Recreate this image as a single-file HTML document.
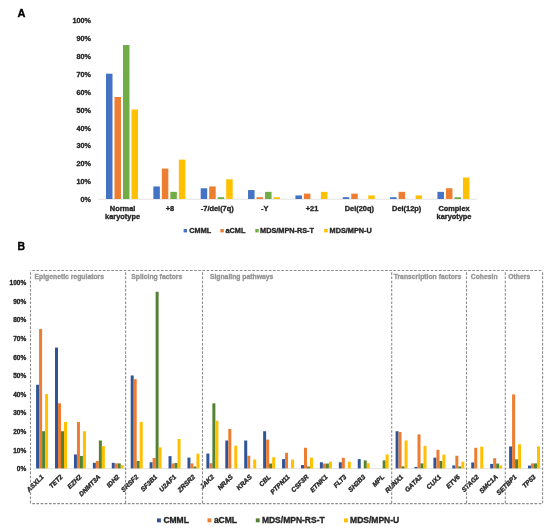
<!DOCTYPE html>
<html><head><meta charset="utf-8"><style>
html,body{margin:0;padding:0;background:#fff;}
body{width:550px;height:531px;overflow:hidden;font-family:"Liberation Sans",sans-serif;}
svg{display:block;will-change:transform;filter:blur(0.3px);}
svg text{font-family:"Liberation Sans",sans-serif;stroke-width:0.35px;stroke-linejoin:round;}
.k{fill:#262626;stroke:#262626;}
.kb{fill:#000;stroke:#000;}
.g{fill:#969696;stroke:#969696;}
</style></head><body>
<svg width="550" height="531" viewBox="0 0 550 531">
<rect x="0" y="0" width="550" height="531" fill="#fff"/>
<text x="17.5" y="16.9" font-family="Liberation Sans" font-weight="bold" font-size="11" class="kb">A</text>
<text x="90.8" y="202.10" text-anchor="end" font-family="Liberation Sans" font-weight="bold" font-size="7.2" class="k">0%</text>
<text x="90.8" y="184.20" text-anchor="end" font-family="Liberation Sans" font-weight="bold" font-size="7.2" class="k">10%</text>
<text x="90.8" y="166.30" text-anchor="end" font-family="Liberation Sans" font-weight="bold" font-size="7.2" class="k">20%</text>
<text x="90.8" y="148.40" text-anchor="end" font-family="Liberation Sans" font-weight="bold" font-size="7.2" class="k">30%</text>
<text x="90.8" y="130.50" text-anchor="end" font-family="Liberation Sans" font-weight="bold" font-size="7.2" class="k">40%</text>
<text x="90.8" y="112.60" text-anchor="end" font-family="Liberation Sans" font-weight="bold" font-size="7.2" class="k">50%</text>
<text x="90.8" y="94.70" text-anchor="end" font-family="Liberation Sans" font-weight="bold" font-size="7.2" class="k">60%</text>
<text x="90.8" y="76.80" text-anchor="end" font-family="Liberation Sans" font-weight="bold" font-size="7.2" class="k">70%</text>
<text x="90.8" y="58.90" text-anchor="end" font-family="Liberation Sans" font-weight="bold" font-size="7.2" class="k">80%</text>
<text x="90.8" y="41.00" text-anchor="end" font-family="Liberation Sans" font-weight="bold" font-size="7.2" class="k">90%</text>
<text x="90.8" y="23.10" text-anchor="end" font-family="Liberation Sans" font-weight="bold" font-size="7.2" class="k">100%</text>
<line x1="97.8" y1="199.25" x2="477.1" y2="199.25" stroke="#d9d9d9" stroke-width="0.75"/>
<rect x="106.00" y="73.70" width="6.5" height="125.30" fill="#4472C4"/>
<rect x="114.50" y="96.97" width="6.5" height="102.03" fill="#ED7D31"/>
<rect x="123.00" y="45.06" width="6.5" height="153.94" fill="#70AD47"/>
<rect x="131.50" y="109.50" width="6.5" height="89.50" fill="#FFC000"/>
<text x="122.57" y="210.50" text-anchor="middle" font-family="Liberation Sans" font-weight="bold" font-size="7.4" class="k">Normal</text>
<text x="122.57" y="218.50" text-anchor="middle" font-family="Liberation Sans" font-weight="bold" font-size="7.4" class="k">karyotype</text>
<rect x="153.35" y="186.47" width="6.5" height="12.53" fill="#4472C4"/>
<rect x="161.85" y="168.57" width="6.5" height="30.43" fill="#ED7D31"/>
<rect x="170.35" y="191.84" width="6.5" height="7.16" fill="#70AD47"/>
<rect x="178.85" y="159.62" width="6.5" height="39.38" fill="#FFC000"/>
<text x="169.93" y="210.50" text-anchor="middle" font-family="Liberation Sans" font-weight="bold" font-size="7.4" class="k">+8</text>
<rect x="200.70" y="188.26" width="6.5" height="10.74" fill="#4472C4"/>
<rect x="209.20" y="186.47" width="6.5" height="12.53" fill="#ED7D31"/>
<rect x="217.70" y="197.21" width="6.5" height="1.79" fill="#70AD47"/>
<rect x="226.20" y="179.31" width="6.5" height="19.69" fill="#FFC000"/>
<text x="217.28" y="210.50" text-anchor="middle" font-family="Liberation Sans" font-weight="bold" font-size="7.4" class="k">-7/del(7q)</text>
<rect x="248.05" y="190.05" width="6.5" height="8.95" fill="#4472C4"/>
<rect x="256.55" y="197.21" width="6.5" height="1.79" fill="#ED7D31"/>
<rect x="265.05" y="191.84" width="6.5" height="7.16" fill="#70AD47"/>
<rect x="273.55" y="197.21" width="6.5" height="1.79" fill="#FFC000"/>
<text x="264.63" y="210.50" text-anchor="middle" font-family="Liberation Sans" font-weight="bold" font-size="7.4" class="k">-Y</text>
<rect x="295.40" y="195.42" width="6.5" height="3.58" fill="#4472C4"/>
<rect x="303.90" y="193.63" width="6.5" height="5.37" fill="#ED7D31"/>
<rect x="320.90" y="191.84" width="6.5" height="7.16" fill="#FFC000"/>
<text x="311.98" y="210.50" text-anchor="middle" font-family="Liberation Sans" font-weight="bold" font-size="7.4" class="k">+21</text>
<rect x="342.75" y="197.21" width="6.5" height="1.79" fill="#4472C4"/>
<rect x="351.25" y="193.63" width="6.5" height="5.37" fill="#ED7D31"/>
<rect x="368.25" y="195.42" width="6.5" height="3.58" fill="#FFC000"/>
<text x="359.33" y="210.50" text-anchor="middle" font-family="Liberation Sans" font-weight="bold" font-size="7.4" class="k">Del(20q)</text>
<rect x="390.10" y="197.21" width="6.5" height="1.79" fill="#4472C4"/>
<rect x="398.60" y="191.84" width="6.5" height="7.16" fill="#ED7D31"/>
<rect x="415.60" y="195.42" width="6.5" height="3.58" fill="#FFC000"/>
<text x="406.68" y="210.50" text-anchor="middle" font-family="Liberation Sans" font-weight="bold" font-size="7.4" class="k">Del(12p)</text>
<rect x="437.45" y="191.84" width="6.5" height="7.16" fill="#4472C4"/>
<rect x="445.95" y="188.26" width="6.5" height="10.74" fill="#ED7D31"/>
<rect x="454.45" y="197.21" width="6.5" height="1.79" fill="#70AD47"/>
<rect x="462.95" y="177.52" width="6.5" height="21.48" fill="#FFC000"/>
<text x="454.03" y="210.50" text-anchor="middle" font-family="Liberation Sans" font-weight="bold" font-size="7.4" class="k">Complex</text>
<text x="454.03" y="218.50" text-anchor="middle" font-family="Liberation Sans" font-weight="bold" font-size="7.4" class="k">karyotype</text>
<rect x="183.6" y="229" width="3.4" height="3.4" fill="#4472C4"/>
<text x="189.3" y="233" font-family="Liberation Sans" font-weight="bold" font-size="7.3" class="k">CMML</text>
<rect x="220.4" y="229" width="3.4" height="3.4" fill="#ED7D31"/>
<text x="225.5" y="233" font-family="Liberation Sans" font-weight="bold" font-size="7.3" class="k">aCML</text>
<rect x="255.3" y="229" width="3.4" height="3.4" fill="#70AD47"/>
<text x="260.1" y="233" font-family="Liberation Sans" font-weight="bold" font-size="7.3" class="k">MDS/MPN-RS-T</text>
<rect x="324.2" y="229" width="3.4" height="3.4" fill="#FFC000"/>
<text x="329.6" y="233" font-family="Liberation Sans" font-weight="bold" font-size="7.3" class="k">MDS/MPN-U</text>
<text x="17.5" y="250.4" font-family="Liberation Sans" font-weight="bold" font-size="10.5" class="kb">B</text>
<text x="26.2" y="471.10" text-anchor="end" font-family="Liberation Sans" font-weight="bold" font-size="6.5" class="k">0%</text>
<text x="26.2" y="452.51" text-anchor="end" font-family="Liberation Sans" font-weight="bold" font-size="6.5" class="k">10%</text>
<text x="26.2" y="433.92" text-anchor="end" font-family="Liberation Sans" font-weight="bold" font-size="6.5" class="k">20%</text>
<text x="26.2" y="415.33" text-anchor="end" font-family="Liberation Sans" font-weight="bold" font-size="6.5" class="k">30%</text>
<text x="26.2" y="396.74" text-anchor="end" font-family="Liberation Sans" font-weight="bold" font-size="6.5" class="k">40%</text>
<text x="26.2" y="378.15" text-anchor="end" font-family="Liberation Sans" font-weight="bold" font-size="6.5" class="k">50%</text>
<text x="26.2" y="359.56" text-anchor="end" font-family="Liberation Sans" font-weight="bold" font-size="6.5" class="k">60%</text>
<text x="26.2" y="340.97" text-anchor="end" font-family="Liberation Sans" font-weight="bold" font-size="6.5" class="k">70%</text>
<text x="26.2" y="322.38" text-anchor="end" font-family="Liberation Sans" font-weight="bold" font-size="6.5" class="k">80%</text>
<text x="26.2" y="303.79" text-anchor="end" font-family="Liberation Sans" font-weight="bold" font-size="6.5" class="k">90%</text>
<text x="26.2" y="285.20" text-anchor="end" font-family="Liberation Sans" font-weight="bold" font-size="6.5" class="k">100%</text>
<line x1="32.8" y1="468.65" x2="543" y2="468.65" stroke="#d9d9d9" stroke-width="0.75"/>
<rect x="36.10" y="384.75" width="3.0" height="83.65" fill="#2F5597"/>
<rect x="39.10" y="328.98" width="3.0" height="139.42" fill="#ED7D31"/>
<rect x="42.10" y="431.22" width="3.0" height="37.18" fill="#548235"/>
<rect x="45.10" y="394.04" width="3.0" height="74.36" fill="#FFC000"/>
<text transform="translate(44.20,477.40) rotate(-45)" text-anchor="end" font-family="Liberation Sans" font-weight="bold" font-style="italic" font-size="6.6" class="k">ASXL1</text>
<rect x="55.02" y="347.56" width="3.0" height="120.83" fill="#2F5597"/>
<rect x="58.02" y="403.33" width="3.0" height="65.06" fill="#ED7D31"/>
<rect x="61.02" y="431.22" width="3.0" height="37.18" fill="#548235"/>
<rect x="64.02" y="421.92" width="3.0" height="46.47" fill="#FFC000"/>
<text transform="translate(63.12,477.40) rotate(-45)" text-anchor="end" font-family="Liberation Sans" font-weight="bold" font-style="italic" font-size="6.6" class="k">TET2</text>
<rect x="73.94" y="454.46" width="3.0" height="13.94" fill="#2F5597"/>
<rect x="76.94" y="421.92" width="3.0" height="46.47" fill="#ED7D31"/>
<rect x="79.94" y="455.94" width="3.0" height="12.46" fill="#548235"/>
<rect x="82.94" y="431.22" width="3.0" height="37.18" fill="#FFC000"/>
<text transform="translate(82.04,477.40) rotate(-45)" text-anchor="end" font-family="Liberation Sans" font-weight="bold" font-style="italic" font-size="6.6" class="k">EZH2</text>
<rect x="92.86" y="462.82" width="3.0" height="5.58" fill="#2F5597"/>
<rect x="95.86" y="460.96" width="3.0" height="7.44" fill="#ED7D31"/>
<rect x="98.86" y="440.51" width="3.0" height="27.88" fill="#548235"/>
<rect x="101.86" y="446.09" width="3.0" height="22.31" fill="#FFC000"/>
<text transform="translate(100.96,477.40) rotate(-45)" text-anchor="end" font-family="Liberation Sans" font-weight="bold" font-style="italic" font-size="6.6" class="k">DNMT3A</text>
<rect x="111.78" y="462.82" width="3.0" height="5.58" fill="#2F5597"/>
<rect x="114.78" y="463.38" width="3.0" height="5.02" fill="#ED7D31"/>
<rect x="117.78" y="463.38" width="3.0" height="5.02" fill="#548235"/>
<rect x="120.78" y="465.24" width="3.0" height="3.16" fill="#FFC000"/>
<text transform="translate(119.88,477.40) rotate(-45)" text-anchor="end" font-family="Liberation Sans" font-weight="bold" font-style="italic" font-size="6.6" class="k">IDH2</text>
<rect x="130.70" y="375.45" width="3.0" height="92.95" fill="#2F5597"/>
<rect x="133.70" y="379.17" width="3.0" height="89.23" fill="#ED7D31"/>
<rect x="136.70" y="460.96" width="3.0" height="7.44" fill="#548235"/>
<rect x="139.70" y="421.92" width="3.0" height="46.47" fill="#FFC000"/>
<text transform="translate(138.80,477.40) rotate(-45)" text-anchor="end" font-family="Liberation Sans" font-weight="bold" font-style="italic" font-size="6.6" class="k">SRSF2</text>
<rect x="149.62" y="462.27" width="3.0" height="6.13" fill="#2F5597"/>
<rect x="152.62" y="457.99" width="3.0" height="10.41" fill="#ED7D31"/>
<rect x="155.62" y="291.79" width="3.0" height="176.60" fill="#548235"/>
<rect x="158.62" y="447.39" width="3.0" height="21.01" fill="#FFC000"/>
<text transform="translate(157.72,477.40) rotate(-45)" text-anchor="end" font-family="Liberation Sans" font-weight="bold" font-style="italic" font-size="6.6" class="k">SF3B1</text>
<rect x="168.54" y="456.13" width="3.0" height="12.27" fill="#2F5597"/>
<rect x="171.54" y="463.38" width="3.0" height="5.02" fill="#ED7D31"/>
<rect x="174.54" y="463.01" width="3.0" height="5.39" fill="#548235"/>
<rect x="177.54" y="439.03" width="3.0" height="29.37" fill="#FFC000"/>
<text transform="translate(176.64,477.40) rotate(-45)" text-anchor="end" font-family="Liberation Sans" font-weight="bold" font-style="italic" font-size="6.6" class="k">U2AF1</text>
<rect x="187.46" y="457.62" width="3.0" height="10.78" fill="#2F5597"/>
<rect x="190.46" y="463.38" width="3.0" height="5.02" fill="#ED7D31"/>
<rect x="193.46" y="466.54" width="3.0" height="1.86" fill="#548235"/>
<rect x="196.46" y="453.71" width="3.0" height="14.69" fill="#FFC000"/>
<text transform="translate(195.56,477.40) rotate(-45)" text-anchor="end" font-family="Liberation Sans" font-weight="bold" font-style="italic" font-size="6.6" class="k">ZRSR2</text>
<rect x="206.38" y="453.53" width="3.0" height="14.87" fill="#2F5597"/>
<rect x="209.38" y="463.19" width="3.0" height="5.21" fill="#ED7D31"/>
<rect x="212.38" y="403.33" width="3.0" height="65.06" fill="#548235"/>
<rect x="215.38" y="420.81" width="3.0" height="47.59" fill="#FFC000"/>
<text transform="translate(214.48,477.40) rotate(-45)" text-anchor="end" font-family="Liberation Sans" font-weight="bold" font-style="italic" font-size="6.6" class="k">JAK2</text>
<rect x="225.30" y="440.51" width="3.0" height="27.88" fill="#2F5597"/>
<rect x="228.30" y="428.99" width="3.0" height="39.41" fill="#ED7D31"/>
<rect x="234.30" y="445.72" width="3.0" height="22.68" fill="#FFC000"/>
<text transform="translate(233.40,477.40) rotate(-45)" text-anchor="end" font-family="Liberation Sans" font-weight="bold" font-style="italic" font-size="6.6" class="k">NRAS</text>
<rect x="244.22" y="440.51" width="3.0" height="27.88" fill="#2F5597"/>
<rect x="247.22" y="455.76" width="3.0" height="12.64" fill="#ED7D31"/>
<rect x="253.22" y="459.48" width="3.0" height="8.92" fill="#FFC000"/>
<text transform="translate(252.32,477.40) rotate(-45)" text-anchor="end" font-family="Liberation Sans" font-weight="bold" font-style="italic" font-size="6.6" class="k">KRAS</text>
<rect x="263.14" y="431.22" width="3.0" height="37.18" fill="#2F5597"/>
<rect x="266.14" y="439.59" width="3.0" height="28.81" fill="#ED7D31"/>
<rect x="269.14" y="463.57" width="3.0" height="4.83" fill="#548235"/>
<rect x="272.14" y="457.25" width="3.0" height="11.15" fill="#FFC000"/>
<text transform="translate(271.24,477.40) rotate(-45)" text-anchor="end" font-family="Liberation Sans" font-weight="bold" font-style="italic" font-size="6.6" class="k">CBL</text>
<rect x="282.06" y="459.10" width="3.0" height="9.29" fill="#2F5597"/>
<rect x="285.06" y="452.78" width="3.0" height="15.62" fill="#ED7D31"/>
<rect x="291.06" y="459.48" width="3.0" height="8.92" fill="#FFC000"/>
<text transform="translate(290.16,477.40) rotate(-45)" text-anchor="end" font-family="Liberation Sans" font-weight="bold" font-style="italic" font-size="6.6" class="k">PTPN11</text>
<rect x="300.98" y="465.05" width="3.0" height="3.35" fill="#2F5597"/>
<rect x="303.98" y="447.77" width="3.0" height="20.63" fill="#ED7D31"/>
<rect x="306.98" y="466.54" width="3.0" height="1.86" fill="#548235"/>
<rect x="309.98" y="457.62" width="3.0" height="10.78" fill="#FFC000"/>
<text transform="translate(309.08,477.40) rotate(-45)" text-anchor="end" font-family="Liberation Sans" font-weight="bold" font-style="italic" font-size="6.6" class="k">CSF3R</text>
<rect x="319.90" y="462.27" width="3.0" height="6.13" fill="#2F5597"/>
<rect x="322.90" y="463.57" width="3.0" height="4.83" fill="#ED7D31"/>
<rect x="325.90" y="463.57" width="3.0" height="4.83" fill="#548235"/>
<rect x="328.90" y="461.71" width="3.0" height="6.69" fill="#FFC000"/>
<text transform="translate(328.00,477.40) rotate(-45)" text-anchor="end" font-family="Liberation Sans" font-weight="bold" font-style="italic" font-size="6.6" class="k">ETNK1</text>
<rect x="338.82" y="462.27" width="3.0" height="6.13" fill="#2F5597"/>
<rect x="341.82" y="457.80" width="3.0" height="10.60" fill="#ED7D31"/>
<rect x="347.82" y="461.71" width="3.0" height="6.69" fill="#FFC000"/>
<text transform="translate(346.92,477.40) rotate(-45)" text-anchor="end" font-family="Liberation Sans" font-weight="bold" font-style="italic" font-size="6.6" class="k">FLT3</text>
<rect x="357.74" y="459.10" width="3.0" height="9.29" fill="#2F5597"/>
<rect x="363.74" y="460.41" width="3.0" height="7.99" fill="#548235"/>
<rect x="366.74" y="463.19" width="3.0" height="5.21" fill="#FFC000"/>
<text transform="translate(365.84,477.40) rotate(-45)" text-anchor="end" font-family="Liberation Sans" font-weight="bold" font-style="italic" font-size="6.6" class="k">SH2B3</text>
<rect x="382.66" y="460.41" width="3.0" height="7.99" fill="#548235"/>
<rect x="385.66" y="454.46" width="3.0" height="13.94" fill="#FFC000"/>
<text transform="translate(384.76,477.40) rotate(-45)" text-anchor="end" font-family="Liberation Sans" font-weight="bold" font-style="italic" font-size="6.6" class="k">MPL</text>
<rect x="395.58" y="431.22" width="3.0" height="37.18" fill="#2F5597"/>
<rect x="398.58" y="431.96" width="3.0" height="36.44" fill="#ED7D31"/>
<rect x="401.58" y="466.36" width="3.0" height="2.04" fill="#548235"/>
<rect x="404.58" y="440.51" width="3.0" height="27.88" fill="#FFC000"/>
<text transform="translate(403.68,477.40) rotate(-45)" text-anchor="end" font-family="Liberation Sans" font-weight="bold" font-style="italic" font-size="6.6" class="k">RUNX1</text>
<rect x="414.50" y="466.91" width="3.0" height="1.49" fill="#2F5597"/>
<rect x="417.50" y="434.38" width="3.0" height="34.02" fill="#ED7D31"/>
<rect x="420.50" y="463.38" width="3.0" height="5.02" fill="#548235"/>
<rect x="423.50" y="445.91" width="3.0" height="22.49" fill="#FFC000"/>
<text transform="translate(422.60,477.40) rotate(-45)" text-anchor="end" font-family="Liberation Sans" font-weight="bold" font-style="italic" font-size="6.6" class="k">GATA2</text>
<rect x="433.42" y="457.62" width="3.0" height="10.78" fill="#2F5597"/>
<rect x="436.42" y="449.81" width="3.0" height="18.59" fill="#ED7D31"/>
<rect x="439.42" y="460.96" width="3.0" height="7.44" fill="#548235"/>
<rect x="442.42" y="454.64" width="3.0" height="13.76" fill="#FFC000"/>
<text transform="translate(441.52,477.40) rotate(-45)" text-anchor="end" font-family="Liberation Sans" font-weight="bold" font-style="italic" font-size="6.6" class="k">CUX1</text>
<rect x="452.34" y="465.43" width="3.0" height="2.97" fill="#2F5597"/>
<rect x="455.34" y="455.76" width="3.0" height="12.64" fill="#ED7D31"/>
<rect x="458.34" y="466.36" width="3.0" height="2.04" fill="#548235"/>
<rect x="461.34" y="461.71" width="3.0" height="6.69" fill="#FFC000"/>
<text transform="translate(460.44,477.40) rotate(-45)" text-anchor="end" font-family="Liberation Sans" font-weight="bold" font-style="italic" font-size="6.6" class="k">ETV6</text>
<rect x="471.26" y="462.45" width="3.0" height="5.95" fill="#2F5597"/>
<rect x="474.26" y="447.77" width="3.0" height="20.63" fill="#ED7D31"/>
<rect x="480.26" y="446.65" width="3.0" height="21.75" fill="#FFC000"/>
<text transform="translate(479.36,477.40) rotate(-45)" text-anchor="end" font-family="Liberation Sans" font-weight="bold" font-style="italic" font-size="6.6" class="k">STAG2</text>
<rect x="490.18" y="463.94" width="3.0" height="4.46" fill="#2F5597"/>
<rect x="493.18" y="458.18" width="3.0" height="10.22" fill="#ED7D31"/>
<rect x="496.18" y="463.57" width="3.0" height="4.83" fill="#548235"/>
<rect x="499.18" y="465.43" width="3.0" height="2.97" fill="#FFC000"/>
<text transform="translate(498.28,477.40) rotate(-45)" text-anchor="end" font-family="Liberation Sans" font-weight="bold" font-style="italic" font-size="6.6" class="k">SMC1A</text>
<rect x="509.10" y="446.46" width="3.0" height="21.94" fill="#2F5597"/>
<rect x="512.10" y="394.41" width="3.0" height="73.99" fill="#ED7D31"/>
<rect x="515.10" y="459.29" width="3.0" height="9.11" fill="#548235"/>
<rect x="518.10" y="444.23" width="3.0" height="24.17" fill="#FFC000"/>
<text transform="translate(517.20,477.40) rotate(-45)" text-anchor="end" font-family="Liberation Sans" font-weight="bold" font-style="italic" font-size="6.6" class="k">SETBP1</text>
<rect x="528.02" y="465.61" width="3.0" height="2.79" fill="#2F5597"/>
<rect x="531.02" y="463.38" width="3.0" height="5.02" fill="#ED7D31"/>
<rect x="534.02" y="463.38" width="3.0" height="5.02" fill="#548235"/>
<rect x="537.02" y="446.46" width="3.0" height="21.94" fill="#FFC000"/>
<text transform="translate(536.12,477.40) rotate(-45)" text-anchor="end" font-family="Liberation Sans" font-weight="bold" font-style="italic" font-size="6.6" class="k">TP53</text>
<path d="M30.5,270.5H542.6" stroke="#8c8c8c" stroke-width="1.1" stroke-dasharray="2.6,1.55" stroke-dashoffset="2.3" fill="none"/>
<path d="M30.5,503.6H542.6" stroke="#8c8c8c" stroke-width="1.1" stroke-dasharray="2.6,1.55" stroke-dashoffset="2.3" fill="none"/>
<path d="M30.5,270.5V503.6" stroke="#8c8c8c" stroke-width="1.1" stroke-dasharray="2.6,1.55" stroke-dashoffset="2.3" fill="none"/>
<path d="M125.6,270.5V503.6" stroke="#8c8c8c" stroke-width="1.1" stroke-dasharray="2.6,1.55" stroke-dashoffset="2.3" fill="none"/>
<path d="M202.5,270.5V503.6" stroke="#8c8c8c" stroke-width="1.1" stroke-dasharray="2.6,1.55" stroke-dashoffset="2.3" fill="none"/>
<path d="M391.7,270.5V503.6" stroke="#8c8c8c" stroke-width="1.1" stroke-dasharray="2.6,1.55" stroke-dashoffset="2.3" fill="none"/>
<path d="M466.5,270.5V503.6" stroke="#8c8c8c" stroke-width="1.1" stroke-dasharray="2.6,1.55" stroke-dashoffset="2.3" fill="none"/>
<path d="M505.3,270.5V503.6" stroke="#8c8c8c" stroke-width="1.1" stroke-dasharray="2.6,1.55" stroke-dashoffset="2.3" fill="none"/>
<path d="M542.6,270.5V503.6" stroke="#8c8c8c" stroke-width="1.1" stroke-dasharray="2.6,1.55" stroke-dashoffset="2.3" fill="none"/>
<text x="34.5" y="278.9" font-family="Liberation Sans" font-weight="bold" font-size="6.8" class="g">Epigenetic regulators</text>
<text x="131.3" y="278.9" font-family="Liberation Sans" font-weight="bold" font-size="6.8" class="g">Splicing factors</text>
<text x="209.9" y="278.9" font-family="Liberation Sans" font-weight="bold" font-size="6.8" class="g">Signaling pathways</text>
<text x="393.7" y="278.9" font-family="Liberation Sans" font-weight="bold" font-size="6.8" class="g">Transcription factors</text>
<text x="470.8" y="278.9" font-family="Liberation Sans" font-weight="bold" font-size="6.8" class="g">Cohesin</text>
<text x="508.3" y="278.9" font-family="Liberation Sans" font-weight="bold" font-size="6.8" class="g">Others</text>
<rect x="157" y="518.4" width="3.9" height="3.9" fill="#2F5597"/>
<text x="163.4" y="522.7" font-family="Liberation Sans" font-weight="bold" font-size="8.5" class="k">CMML</text>
<rect x="207.5" y="518.4" width="3.9" height="3.9" fill="#ED7D31"/>
<text x="213.9" y="522.7" font-family="Liberation Sans" font-weight="bold" font-size="8.5" class="k">aCML</text>
<rect x="255.8" y="518.4" width="3.9" height="3.9" fill="#548235"/>
<text x="261.9" y="522.7" font-family="Liberation Sans" font-weight="bold" font-size="8.5" class="k">MDS/MPN-RS-T</text>
<rect x="344" y="518.4" width="3.9" height="3.9" fill="#FFC000"/>
<text x="350.1" y="522.7" font-family="Liberation Sans" font-weight="bold" font-size="8.5" class="k">MDS/MPN-U</text>
</svg>
</body></html>
